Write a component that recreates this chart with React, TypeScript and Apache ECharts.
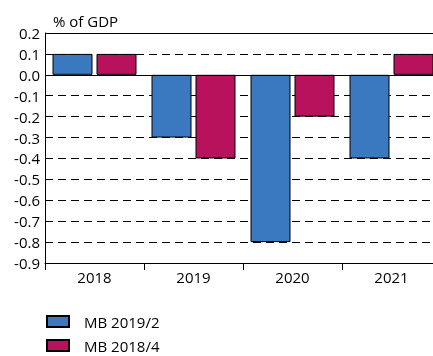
import React, { useEffect, useRef } from "react";
import * as echarts from "echarts";

const categories = ["2018", "2019", "2020", "2021"];
const seriesNames = ["MB 2019/2", "MB 2018/4"];
const mb2019 = [0.1, -0.3, -0.8, -0.4];
const mb2018 = [0.1, -0.4, -0.2, 0.1];
const yTitle = "% of GDP";

export default function App() {
  const ref = useRef<HTMLDivElement>(null);
  useEffect(() => {
    if (!ref.current) return;
    const chart = echarts.init(ref.current, undefined, { renderer: "svg" });
    const font = "'Open Sans', sans-serif";
    const legendBase = {
      orient: "vertical",
      left: 46,
      itemWidth: 22,
      itemHeight: 11,
      padding: 0,
      icon: "rect",
      textStyle: { fontFamily: font, fontSize: 15, lineHeight: 14, color: "#000", padding: [0, 0, 0, 10] },
    };
    chart.setOption({
      animation: false,
      textStyle: { fontFamily: font },
      title: {
        text: yTitle,
        left: 48,
        top: 8,
        textStyle: { fontFamily: font, fontSize: 15, fontWeight: "normal", color: "#000" },
      },
      legend: [
        { ...legendBase, top: 314, data: [seriesNames[0]] },
        { ...legendBase, top: 338, data: [seriesNames[1]] },
      ],
      grid: { left: 45, top: 33, width: 396, bottom: 93, containLabel: false, outerBoundsMode: "none" },
      xAxis: {
        type: "category",
        data: categories,
        axisLine: { onZero: false, lineStyle: { color: "#000", width: 1 } },
        axisTick: { show: true, length: 7, lineStyle: { color: "#000" } },
        axisLabel: { color: "#000", fontSize: 15, fontFamily: font, margin: 6 },
      },
      yAxis: {
        type: "value",
        min: -0.9,
        max: 0.2,
        interval: 0.1,
        axisLine: { show: true, lineStyle: { color: "#000", width: 1 } },
        axisTick: { show: false },
        axisLabel: {
          color: "#000",
          fontSize: 15,
          fontFamily: font,
          margin: 5,
          formatter: (v: number) => (Math.round(v * 10) / 10).toFixed(1),
        },
        splitLine: { show: true, lineStyle: { color: "#000", type: [8, 5], width: 1 } },
      },
      series: [
        {
          name: seriesNames[0],
          type: "bar",
          data: mb2019,
          barWidth: 40,
          barGap: "10%",
          itemStyle: { color: "#3a79bf", borderColor: "#000", borderWidth: 1 },
          markLine: {
            silent: true,
            symbol: "none",
            label: { show: false },
            lineStyle: { color: "#000", type: "solid", width: 1 },
            data: [{ yAxis: 0 }, { yAxis: 0.2 }],
          },
        },
        {
          name: seriesNames[1],
          type: "bar",
          data: mb2018,
          barWidth: 40,
          barGap: "10%",
          itemStyle: { color: "#b8125c", borderColor: "#000", borderWidth: 1 },
        },
      ],
    });
    return () => chart.dispose();
  }, []);
  return <div ref={ref} style={{ position: "fixed", left: 0, top: 0, width: 433, height: 356 }} />;
}
